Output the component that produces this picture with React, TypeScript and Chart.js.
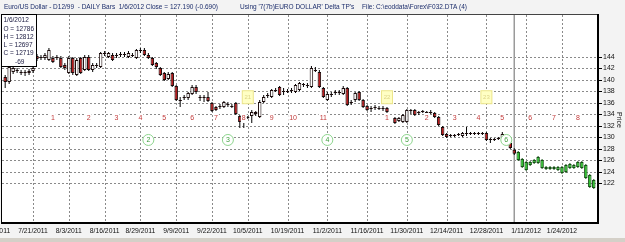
import React, { useEffect, useRef } from 'react';
import { Chart, registerables } from 'chart.js';

Chart.register(...registerables);

const FONT = '"Liberation Sans", Arial, Helvetica, sans-serif';

// Trading-day index: 1 = 7/12/2011 ... 129 = 1/6/2012 (current bar); 98 = no bar
const firstBar = 1;
const opens = [140.52,139.65,141.39,141.74,141.39,141.39,141.57,141.57,144.17,144.00,143.83,143.48,143.83,144.00,143.83,142.61,141.22,143.83,140.87,143.83,141.74,144.00,141.74,142.61,142.26,144.70,144.00,144.35,144.35,144.52,144.52,144.00,144.35,143.83,145.22,145.22,144.35,143.83,142.96,142.09,141.22,140.17,141.22,138.96,136.52,137.04,136.87,137.57,138.78,137.04,137.04,137.04,136.00,135.30,135.48,135.30,135.83,135.48,136.00,133.74,133.04,133.57,133.74,134.43,133.57,136.17,137.39,137.04,138.26,138.78,138.09,138.09,138.26,137.91,138.26,139.30,139.13,138.78,141.74,141.39,138.61,136.52,137.57,137.91,137.91,137.57,138.61,136.17,136.52,137.91,136.52,135.48,135.13,135.30,135.13,135.13,135.13,null,133.39,132.87,132.70,132.70,134.78,134.78,134.43,134.61,134.43,134.43,134.26,133.57,131.83,130.61,130.43,130.43,130.61,130.26,130.78,130.78,130.78,130.78,130.78,130.78,129.74,129.74,129.91,129.91,129.74,129.04,127.86];
const highs = [140.87,142.61,142.43,142.09,141.74,141.74,141.91,142.43,144.52,144.35,144.70,145.57,144.17,144.35,144.17,142.96,144.17,144.00,143.83,144.00,144.35,144.35,142.96,142.96,144.87,145.04,144.87,144.70,144.70,144.87,144.87,145.04,144.70,145.39,145.57,145.57,144.70,144.00,143.13,142.26,141.39,141.39,141.39,139.13,137.04,137.39,137.91,139.13,139.13,137.39,137.39,137.91,136.17,135.48,135.83,136.35,136.17,135.83,136.17,133.91,133.39,133.74,134.78,134.61,136.52,137.39,137.74,138.43,138.61,138.96,138.61,138.43,138.61,139.30,139.65,139.48,139.48,142.43,142.26,141.74,138.78,137.91,137.91,138.26,138.26,138.96,138.78,136.52,137.91,138.09,136.70,135.65,135.48,135.65,135.48,135.48,135.30,null,133.57,133.57,134.09,134.96,134.96,134.96,134.61,134.78,134.61,134.78,134.43,133.74,132.00,130.78,130.61,130.61,130.78,130.96,131.83,130.96,130.96,130.96,130.96,130.96,129.91,129.91,130.09,130.96,129.91,129.22,128.12];
const lows = [138.61,139.30,141.04,141.22,140.87,140.70,140.87,141.22,143.30,143.48,143.48,143.30,142.96,143.48,142.09,141.74,141.04,140.87,140.70,141.04,141.57,141.57,141.39,142.09,142.09,144.17,143.83,143.30,143.83,144.00,144.00,143.83,144.00,143.65,144.70,144.17,143.65,142.43,141.91,140.70,139.83,140.00,138.78,136.35,135.30,136.52,136.52,137.39,137.57,136.35,136.17,136.17,134.43,134.61,134.96,135.13,135.30,135.13,133.91,131.65,131.65,133.22,132.52,133.74,133.39,136.00,136.87,136.87,137.91,137.22,137.39,137.74,137.74,137.74,138.09,138.78,138.61,138.61,141.39,138.61,136.87,136.35,137.04,137.39,137.39,137.39,135.48,135.65,136.17,136.35,135.13,134.61,134.43,134.78,134.78,134.61,134.26,null,132.35,132.70,132.52,132.52,134.09,133.74,133.91,134.26,134.09,134.09,133.39,132.00,130.26,129.91,130.09,130.09,130.26,130.09,130.26,130.43,130.43,130.43,130.43,129.39,129.04,129.39,129.57,129.74,129.04,128.00,126.97];
const closes = [139.65,142.26,142.09,141.57,141.22,141.22,141.22,142.09,143.65,143.83,144.35,145.22,143.13,143.83,142.26,142.09,143.83,141.22,143.48,141.22,144.00,141.74,142.61,142.43,144.70,144.52,144.70,143.48,144.17,144.35,144.35,144.70,144.17,145.22,145.04,144.35,143.83,142.61,142.26,140.87,140.00,141.04,138.96,136.52,136.35,136.87,137.74,138.78,137.91,136.87,136.87,136.35,134.61,134.78,135.30,136.17,135.65,135.30,134.09,132.70,132.87,133.39,134.43,134.09,136.17,137.04,137.22,138.26,138.09,137.39,137.91,137.91,138.09,139.13,139.48,139.13,138.96,142.09,141.57,138.78,137.04,137.57,137.39,137.74,137.74,138.61,135.65,136.00,137.74,136.52,135.30,134.78,134.96,135.13,134.96,134.96,134.43,null,132.52,133.39,133.91,134.78,134.61,133.91,134.26,134.43,134.26,134.26,133.57,132.17,130.43,130.09,130.26,130.26,130.43,130.78,130.61,130.61,130.61,130.61,130.61,129.57,129.57,129.57,129.74,130.61,129.22,128.17,127.19];

// Projected (green) bars, index 130 ... 149
const projFirstBar = 130;
const projOpens = [127.48,126.26,125.74,125.74,126.09,126.61,126.09,124.87,124.87,124.87,124.87,124.87,125.22,125.39,125.22,125.74,125.74,125.22,123.48,122.61];
const projHighs = [127.65,126.43,125.91,125.91,126.26,126.78,126.26,125.04,125.04,125.04,125.04,125.04,125.39,125.57,125.39,125.91,125.91,125.39,123.65,122.78];
const projLows = [125.91,124.70,124.17,125.04,125.39,125.39,124.52,124.35,124.35,124.35,124.17,123.65,123.83,124.52,124.52,124.70,124.52,122.78,121.22,121.04];
const projCloses = [126.09,124.87,124.35,125.22,125.57,125.57,124.70,124.52,124.52,124.52,124.35,123.83,124.00,124.70,124.70,124.87,124.70,122.96,121.39,121.22];

const currentBar = 129;

// X-axis date labels and their bar index
const tickIdx = [-1, 8, 17, 26, 35, 44, 53, 62, 72, 82, 92, 102, 112, 122, 132, 141];
const tickDates = ['7/8/2011', '7/21/2011', '8/3/2011', '8/16/2011', '8/29/2011', '9/9/2011', '9/22/2011', '10/5/2011', '10/19/2011', '11/2/2011', '11/16/2011', '11/30/2011', '12/14/2011', '12/28/2011', '1/11/2012', '1/24/2012'];
const priceTicks = [122, 124, 126, 128, 130, 132, 134, 136, 138, 140, 142, 144];

// Cycle count labels (red)
const countLabels = ['1', '2', '3', '4', '5', '6', '7', '8', '9', '10', '11', '1', '2', '3', '4', '5', '6', '7', '8'];
const countIdx = [13, 22, 29, 35, 41, 48, 54, 61, 68, 73.4, 81, 97, 107, 114, 120, 126, 133, 139, 145];
const countPrice = 133.39;
// Circled labels (green)
const circleLabels = ['2', '3', '4', '5', '6'];
const circleIdx = [37, 57, 82, 102, 127];
const circlePrice = 129.57;
// Yellow boxes
const boxLabels = ['21', '22', '23'];
const boxIdx = [62, 97, 122];
const boxPrice = 137.0;

const infoLines = ['1/6/2012', 'O = 12786', 'H = 12812', 'L = 12697', 'C = 12719'];
const infoChange = '-69';
const titleLeft = 'Euro/US Dollar - D12/99  - DAILY Bars  1/6/2012 Close = 127.190 (-0.690)';
const titleMid = "Using '7(7b)EURO DOLLAR' Delta TP's";
const titleRight = 'File: C:\\eoddata\\Forex\\F032.DTA (4)';

const overlay = {
  id: 'overlay',
  beforeDraw(chart: any) {
    const { ctx, chartArea: a, width, height } = chart;
    ctx.save();
    ctx.fillStyle = '#f3f3f3';
    ctx.fillRect(0, 0, width, height);
    ctx.fillStyle = '#ffffff';
    ctx.fillRect(a.left, a.top, a.right - a.left, a.bottom - a.top);
    ctx.fillStyle = '#d4d0c8';
    ctx.fillRect(0, 238, width, height - 238);
    ctx.restore();
  },
  beforeDatasetsDraw(chart: any) {
    const { ctx, chartArea: a, scales } = chart;
    const xs = scales.x;
    const ys = scales.y;
    ctx.save();
    ctx.strokeStyle = '#8a8a8a';
    ctx.lineWidth = 1;
    ctx.setLineDash([2, 2]);
    priceTicks.forEach((p) => {
      const y = Math.round(ys.getPixelForValue(p)) + 0.5;
      ctx.beginPath();
      ctx.moveTo(a.left, y);
      ctx.lineTo(a.right, y);
      ctx.stroke();
    });
    tickIdx.forEach((t) => {
      const x = Math.round(xs.getPixelForValue(t)) + 0.5;
      if (x < a.left || x > a.right) return;
      ctx.beginPath();
      ctx.moveTo(x, a.top);
      ctx.lineTo(x, a.bottom);
      ctx.stroke();
    });
    ctx.setLineDash([]);
    ctx.strokeStyle = '#9a9a9a';
    ctx.lineWidth = 1.5;
    const cx = xs.getPixelForValue(currentBar);
    ctx.beginPath();
    ctx.moveTo(cx, a.top);
    ctx.lineTo(cx, a.bottom);
    ctx.stroke();
    ctx.restore();
  },
  afterDatasetsDraw(chart: any) {
    const { ctx, chartArea: a, scales } = chart;
    const xs = scales.x;
    const ys = scales.y;
    ctx.save();
    // frame
    ctx.fillStyle = '#000';
    ctx.fillRect(a.left - 1, a.top, 1, a.bottom - a.top);
    ctx.fillStyle = '#444';
    ctx.fillRect(a.left - 1, a.top - 1, a.right - a.left + 1, 1);
    ctx.fillStyle = '#000';
    ctx.fillRect(a.right - 1, a.top - 1, 2, a.bottom - a.top + 2);
    ctx.fillRect(a.left - 1, a.bottom - 1, a.right - a.left + 2, 2);
    // y tick marks
    priceTicks.forEach((p) => {
      const y = Math.round(ys.getPixelForValue(p));
      ctx.fillRect(a.right + 1, y, 3, 1);
    });

    ctx.textAlign = 'center';
    ctx.textBaseline = 'middle';
    // red cycle counts
    ctx.font = `7px ${FONT}`;
    countLabels.forEach((t, k) => {
      const x = xs.getPixelForValue(countIdx[k]);
      const y = ys.getPixelForValue(countPrice);
      const w = ctx.measureText(t).width;
      ctx.fillStyle = '#ffffff';
      ctx.fillRect(x - w / 2 - 1, y - 5, w + 2, 10);
      ctx.fillStyle = '#c23a3a';
      ctx.fillText(t, x, y + 0.5);
    });
    // green circles
    circleLabels.forEach((t, k) => {
      const x = xs.getPixelForValue(circleIdx[k]);
      const y = ys.getPixelForValue(circlePrice);
      ctx.beginPath();
      ctx.arc(x, y, 5.5, 0, Math.PI * 2);
      ctx.fillStyle = '#ffffff';
      ctx.fill();
      ctx.strokeStyle = '#8fd68f';
      ctx.lineWidth = 1;
      ctx.stroke();
      ctx.fillStyle = '#3c9e3c';
      ctx.font = `7px ${FONT}`;
      ctx.fillText(t, x, y + 0.5);
    });
    // yellow boxes
    boxLabels.forEach((t, k) => {
      const x = xs.getPixelForValue(boxIdx[k]);
      const y = ys.getPixelForValue(boxPrice);
      ctx.fillStyle = '#ffffc4';
      ctx.fillRect(x - 5.5, y - 6.5, 11, 13);
      ctx.strokeStyle = '#ece58a';
      ctx.lineWidth = 1;
      ctx.strokeRect(x - 5.5, y - 6.5, 11, 13);
      ctx.fillStyle = '#ddd48a';
      ctx.font = `6px ${FONT}`;
      ctx.fillText(t, x, y + 0.5);
    });

    // info box
    ctx.fillStyle = '#ffffff';
    ctx.fillRect(a.left - 1, a.top - 1, 36, 53);
    ctx.strokeStyle = '#000';
    ctx.lineWidth = 1;
    ctx.strokeRect(a.left - 0.5, a.top - 0.5, 35, 52);
    ctx.fillStyle = '#1a1a40';
    ctx.font = `6.5px ${FONT}`;
    ctx.textAlign = 'left';
    infoLines.forEach((t, k) => {
      ctx.fillText(t, a.left + 1.5, a.top + 5.5 + k * 8.3);
    });
    ctx.fillText(infoChange, a.left + 13, a.top + 5.5 + 5 * 8.3);

    // title
    ctx.fillStyle = '#1c2d6b';
    ctx.font = `6.5px ${FONT}`;
    ctx.fillText(titleLeft, 4, 7.5);
    ctx.fillText(titleMid, 240, 7.5);
    ctx.fillText(titleRight, 362, 7.5);

    // axis title
    ctx.save();
    ctx.font = `7px ${FONT}`;
    ctx.translate(619, (a.top + a.bottom) / 2 + 1);
    ctx.rotate(Math.PI / 2);
    ctx.textAlign = 'center';
    ctx.fillStyle = '#111';
    ctx.fillText('Price', 0, 0);
    ctx.restore();
    ctx.restore();
  },
};

function makeBars(first: number, o: any[], h: any[], l: any[], c: any[]) {
  const wick: any[] = [];
  const body: any[] = [];
  o.forEach((v, k) => {
    if (v == null) return;
    wick.push({ x: first + k, y: [l[k], h[k]] });
    body.push({ x: first + k, y: [v, c[k]] });
  });
  return { wick, body };
}

export default function App() {
  const ref = useRef<HTMLCanvasElement | null>(null);
  useEffect(() => {
    document.body.style.margin = '0';
    const real = makeBars(firstBar, opens, highs, lows, closes);
    const proj = makeBars(projFirstBar, projOpens, projHighs, projLows, projCloses);
    const common = { grouped: false, inflateAmount: 0, borderSkipped: false };
    const chart = new Chart(ref.current as HTMLCanvasElement, {
      type: 'bar',
      data: {
        datasets: [
          {
            ...common,
            data: real.body,
            order: 0,
            barThickness: 3.5,
            borderWidth: 1,
            borderColor: '#1a0a0a',
            backgroundColor: (ctx: any) => {
              const r = ctx.raw;
              if (!r) return '#fff';
              return r.y[1] < r.y[0] ? '#b8191b' : '#ffffff';
            },
          } as any,
          {
            ...common,
            data: proj.body,
            order: 0,
            barThickness: 3.5,
            borderWidth: 1,
            borderColor: '#145014',
            backgroundColor: '#2fc42f',
          } as any,
          {
            ...common,
            data: real.wick,
            order: 1,
            barThickness: 1,
            borderWidth: 0,
            backgroundColor: '#000',
          } as any,
          {
            ...common,
            data: proj.wick,
            order: 1,
            barThickness: 1,
            borderWidth: 0,
            backgroundColor: '#145014',
          } as any,
        ],
      },
      options: {
        animation: false,
        responsive: false,
        events: [],
        layout: { padding: { left: 2, top: 15, right: 0, bottom: 0 }, autoPadding: false },
        plugins: { legend: { display: false }, tooltip: { enabled: false }, title: { display: false } },
        scales: {
          x: {
            type: 'linear',
            min: 0.2,
            max: 150.06,
            offset: false,
            grid: { display: false, drawTicks: false },
            border: { display: false },
            afterBuildTicks: (s: any) => {
              s.ticks = tickIdx.map((v) => ({ value: v }));
            },
            afterFit: (s: any) => {
              s.height = 19;
              s.paddingLeft = 0;
              s.paddingRight = 0;
            },
            ticks: {
              autoSkip: false,
              maxRotation: 0,
              minRotation: 0,
              padding: 4,
              color: '#111',
              font: { family: FONT, size: 6.8 },
              callback: (v: any) => {
                const k = tickIdx.indexOf(Number(v));
                return k >= 0 ? tickDates[k] : '';
              },
            },
          },
          y: {
            type: 'linear',
            position: 'right',
            min: 115.13,
            max: 151.3,
            grid: { display: false, drawTicks: false },
            border: { display: false },
            afterBuildTicks: (s: any) => {
              s.ticks = priceTicks.map((v) => ({ value: v }));
            },
            afterFit: (s: any) => {
              s.width = 27;
              s.paddingTop = 0;
              s.paddingBottom = 0;
            },
            ticks: {
              padding: 5,
              color: '#111',
              font: { family: FONT, size: 7 },
              callback: (v: any) => String(v),
            },
          },
        },
      } as any,
      plugins: [overlay as any],
    });
    return () => chart.destroy();
  }, []);
  return <canvas ref={ref} width={625} height={242} style={{ display: 'block' }} />;
}
